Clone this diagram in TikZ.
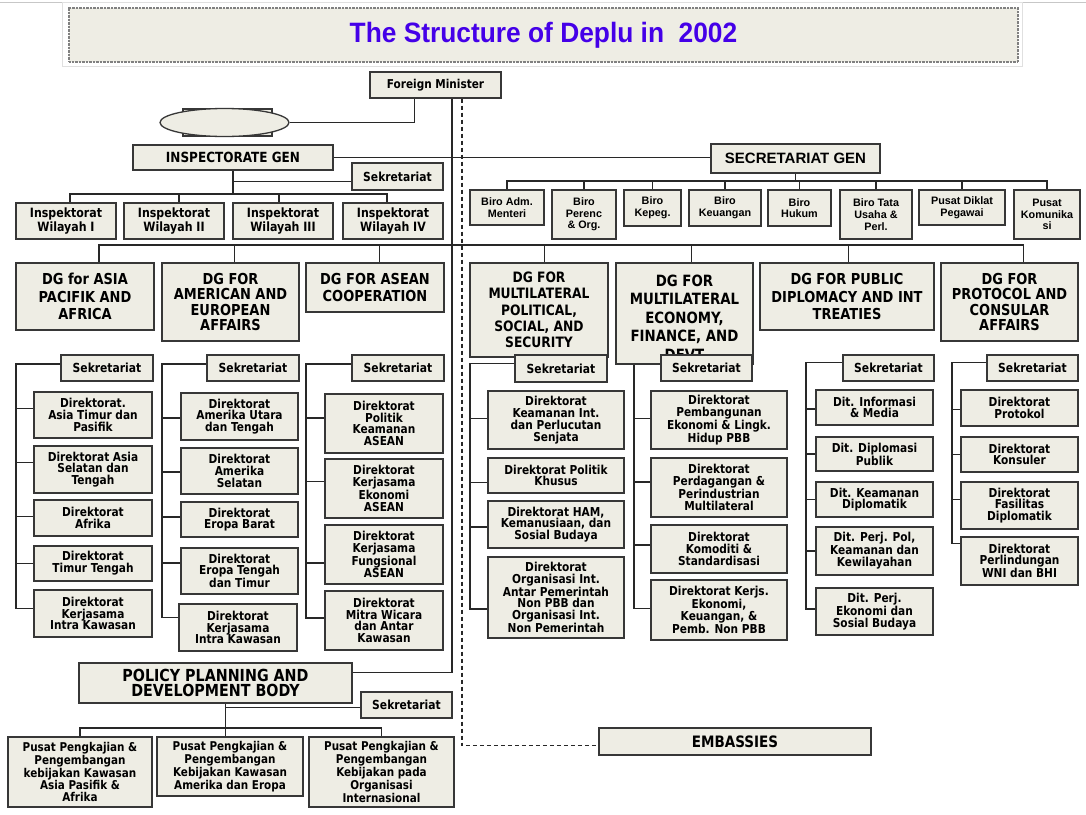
\documentclass[tikz,border=0pt]{standalone}
\usepackage{fontspec}
\usetikzlibrary{shapes.geometric,calc}
\newfontfamily\tah{DejaVu Sans}[FakeStretch=0.86]
\newfontfamily\lib{Liberation Sans}
\newfontfamily\libt{Liberation Sans}[FakeStretch=0.94]
\definecolor{boxfill}{RGB}{238,237,228}
\definecolor{titleblue}{RGB}{68,0,232}
\definecolor{edgec}{RGB}{55,55,55}
\definecolor{linec}{RGB}{40,40,40}
\pgfdeclarelayer{bg}
\pgfsetlayers{bg,main}
\newcommand{\bx}[7]{\node[#6,minimum width={(#4)-(#2)},minimum height={(#5)-(#3)}] (#1) at ({((#2)+(#4))/2},{((#3)+(#5))/2}) {#7};}
\newcommand{\lcon}[2]{\coordinate (#1c) at ($(#1.north west)!#2!(#1.south west)$);}
\newcommand{\tcon}[2]{\coordinate (#1t) at ($(#1.north west)!#2!(#1.north east)$);}
\tikzset{
  box/.style={draw=edgec,fill=boxfill,line width=1.3pt,inner sep=0pt,align=center,text=black},
  ln/.style={draw=linec,line width=1.2pt},
  fmst/.style={box,font=\tah\bfseries\fontsize{12.2}{13}\selectfont},
  hd/.style={box,font=\tah\bfseries\fontsize{14}{15}\selectfont},
  sgst/.style={box,font=\lib\bfseries\fontsize{15}{17}\selectfont},
  biro/.style={box,font=\lib\bfseries\fontsize{10.8}{11.7}\selectfont},
  sek/.style={box,font=\tah\bfseries\fontsize{12.5}{13}\selectfont},
  insk/.style={box,font=\tah\bfseries\fontsize{12.8}{12}\selectfont},
  dgbox/.style={box,font=\tah\bfseries\fontsize{15.1}{17.5}\selectfont},
  dgt/.style={box,font=\tah\bfseries\fontsize{15.1}{15.5}\selectfont},
  dgm/.style={box,font=\tah\bfseries\fontsize{14.3}{16.3}\selectfont},
  dgmf/.style={box,font=\tah\bfseries\fontsize{15.5}{18.5}\selectfont},
  dirbox/.style={box,font=\tah\bfseries\fontsize{12.3}{11.8}\selectfont},
  pus/.style={box,font=\tah\bfseries\fontsize{12.1}{11.5}\selectfont},
  ppst/.style={box,font=\tah\bfseries\fontsize{16.6}{15.5}\selectfont},
  embst/.style={box,font=\tah\bfseries\fontsize{15.7}{16}\selectfont},
  tbox/.style={box,draw=black!50,line width=1.4pt,dash pattern=on 0.7pt off 0.7pt,font=\libt\bfseries\fontsize{28}{30}\selectfont,text=titleblue},
}
\begin{document}
\begin{tikzpicture}[x=1pt,y=-1pt]
\useasboundingbox (0,0) rectangle (1086,814);
\begin{pgfonlayer}{bg}
\fill[white] (0,0) rectangle (1086,814);
\end{pgfonlayer}
% title
\draw[black!22,line width=0.8pt] (0,2) -- (1086,2);
\node[draw=black!12,fill=white,minimum width=960,minimum height=64,inner sep=0pt] (tframe) at (542,34) {};
\bx{title}{69}{8}{1018}{62}{tbox}{The Structure of Deplu in\ \ 2002}
% top
\bx{fm}{370}{72}{501}{98}{fmst}{Foreign Minister}
\bx{ellrect}{183}{109}{272}{136}{box}{}
\node[ellipse,draw=edgec,fill=boxfill,line width=1.3pt,minimum width=129,minimum height=28,inner sep=0pt] (ell) at (224.5,122.5) {};
\bx{insp}{133}{145}{333}{170}{hd}{INSPECTORATE GEN}
\bx{isek}{352}{163}{443}{190}{sek}{Sekretariat}
\bx{i1}{16}{203}{116}{239}{insk}{Inspektorat\\Wilayah I}
\bx{i2}{124}{203}{224}{239}{insk}{Inspektorat\\Wilayah II}
\bx{i3}{233}{203}{333}{239}{insk}{Inspektorat\\Wilayah III}
\bx{i4}{343}{203}{443}{239}{insk}{Inspektorat\\Wilayah IV}
\bx{sg}{711}{144}{880}{173}{sgst}{SECRETARIAT GEN}
\bx{b1}{470}{190}{544}{225}{biro}{Biro Adm.\\Menteri}
\bx{b2}{552}{190}{616}{239}{biro}{Biro\\Perenc\\\& Org.}
\bx{b3}{624}{190}{681}{226}{biro}{Biro\\Kepeg.}
\bx{b4}{689}{190}{761}{226}{biro}{Biro\\Keuangan}
\bx{b5}{768}{190}{831}{226}{biro}{Biro\\Hukum}
\bx{b6}{840}{190}{912}{239}{biro}{Biro Tata\\Usaha \&\\Perl.}
\bx{b7}{919}{190}{1005}{225}{biro}{Pusat Diklat\\Pegawai}
\bx{b8}{1014}{190}{1080}{239}{biro}{Pusat\\Komunika\\si}
% DGs
\bx{dg1}{16}{263}{154}{330}{dgbox}{DG for ASIA\\PACIFIK AND\\AFRICA}
\bx{dg2}{162}{263}{299}{341}{dgt}{DG FOR\\AMERICAN AND\\EUROPEAN\\AFFAIRS}
\bx{dg3}{306}{263}{444}{312}{dgbox}{DG FOR ASEAN\\COOPERATION}
\bx{dg4}{470}{263}{608}{357}{dgm}{DG FOR\\MULTILATERAL\\POLITICAL,\\SOCIAL, AND\\SECURITY}
\bx{dg5}{616}{263}{753}{364}{dgmf}{\rule{0pt}{19.3pt}DG FOR\\MULTILATERAL\\ECONOMY,\\FINANCE, AND\\DEVT}
\bx{dg6}{760}{263}{934}{330}{dgbox}{DG FOR PUBLIC\\DIPLOMACY AND INT\\TREATIES}
\bx{dg7}{941}{263}{1078}{341}{dgt}{DG FOR\\PROTOCOL AND\\CONSULAR\\AFFAIRS}
% Sekretariats
\bx{s1}{61}{355}{153}{381}{sek}{Sekretariat}
\bx{s2}{207}{355}{299}{381}{sek}{Sekretariat}
\bx{s3}{352}{355}{444}{381}{sek}{Sekretariat}
\bx{s4}{515}{355}{607}{382}{sek}{Sekretariat}
\bx{s5}{661}{355}{752}{381}{sek}{Sekretariat}
\bx{s6}{843}{355}{934}{381}{sek}{Sekretariat}
\bx{s7}{987}{355}{1078}{381}{sek}{Sekretariat}
% column 1
\bx{a1}{34}{392}{152}{438}{dirbox}{Direktorat.\\Asia Timur dan\\Pasifik}
\bx{a2}{34}{446}{152}{493}{dirbox}{Direktorat Asia\\Selatan dan\\Tengah}
\bx{a3}{34}{500}{152}{536}{dirbox}{Direktorat\\Afrika}
\bx{a4}{34}{546}{152}{581}{dirbox}{Direktorat\\Timur Tengah}
\bx{a5}{34}{590}{152}{637}{dirbox}{Direktorat\\Kerjasama\\Intra Kawasan}
% column 2
\bx{c21}{181}{393}{298}{440}{dirbox}{Direktorat\\Amerika Utara\\dan Tengah}
\bx{c22}{181}{448}{298}{494}{dirbox}{Direktorat\\Amerika\\Selatan}
\bx{c23}{181}{502}{298}{537}{dirbox}{Direktorat\\Eropa Barat}
\bx{c24}{181}{548}{298}{594}{dirbox}{Direktorat\\Eropa Tengah\\dan Timur}
\bx{c25}{179}{604}{297}{651}{dirbox}{Direktorat\\Kerjasama\\Intra Kawasan}
% column 3
\bx{c31}{325}{394}{443}{453}{dirbox}{Direktorat\\Politik\\Keamanan\\ASEAN}
\bx{c32}{325}{459}{443}{518}{dirbox}{Direktorat\\Kerjasama\\Ekonomi\\ASEAN}
\bx{c33}{325}{525}{443}{584}{dirbox}{Direktorat\\Kerjasama\\Fungsional\\ASEAN}
\bx{c34}{325}{591}{443}{650}{dirbox}{Direktorat\\Mitra Wicara\\dan Antar\\Kawasan}
% column 4
\bx{d1}{488}{391}{624}{449}{dirbox}{Direktorat\\Keamanan Int.\\dan Perlucutan\\Senjata}
\bx{d2}{488}{458}{624}{493}{dirbox}{Direktorat Politik\\Khusus}
\bx{d3}{488}{501}{624}{548}{dirbox}{Direktorat HAM,\\Kemanusiaan, dan\\Sosial Budaya}
\bx{d4}{488}{557}{624}{638}{dirbox}{Direktorat\\Organisasi Int.\\Antar Pemerintah\\Non PBB dan\\Organisasi Int.\\Non Pemerintah}
% column 5
\bx{e1}{651}{391}{787}{449}{dirbox}{Direktorat\\Pembangunan\\Ekonomi \& Lingk.\\Hidup PBB}
\bx{e2}{651}{458}{787}{517}{dirbox}{Direktorat\\Perdagangan \&\\Perindustrian\\Multilateral}
\bx{e3}{651}{525}{787}{573}{dirbox}{Direktorat\\Komoditi \&\\Standardisasi}
\bx{e4}{651}{580}{787}{640}{dirbox}{Direktorat Kerjs.\\Ekonomi,\\Keuangan, \&\\Pemb. Non PBB}
% column 6
\bx{f1}{816}{390}{933}{425}{dirbox}{Dit. Informasi\\\& Media}
\bx{f2}{816}{437}{933}{471}{dirbox}{Dit. Diplomasi\\Publik}
\bx{f3}{816}{482}{933}{517}{dirbox}{Dit. Keamanan\\Diplomatik}
\bx{f4}{816}{527}{933}{575}{dirbox}{Dit. Perj. Pol,\\Keamanan dan\\Kewilayahan}
\bx{f5}{816}{588}{933}{635}{dirbox}{Dit. Perj.\\Ekonomi dan\\Sosial Budaya}
% column 7
\bx{g1}{961}{390}{1078}{426}{dirbox}{Direktorat\\Protokol}
\bx{g2}{961}{437}{1078}{472}{dirbox}{Direktorat\\Konsuler}
\bx{g3}{961}{482}{1078}{529}{dirbox}{Direktorat\\Fasilitas\\Diplomatik}
\bx{g4}{961}{537}{1078}{585}{dirbox}{Direktorat\\Perlindungan\\WNI dan BHI}
% policy planning
\bx{ppdb}{79}{663}{352}{703}{ppst}{POLICY PLANNING AND\\DEVELOPMENT BODY}
\bx{psek}{361}{692}{452}{718}{sek}{Sekretariat}
\bx{p1}{8}{737}{152}{807}{pus}{Pusat Pengkajian \&\\Pengembangan\\kebijakan Kawasan\\Asia Pasifik \&\\Afrika}
\bx{p2}{157}{737}{303}{796}{pus}{Pusat Pengkajian \&\\Pengembangan\\Kebijakan Kawasan\\Amerika dan Eropa}
\bx{p3}{309}{737}{454}{807}{pus}{Pusat Pengkajian \&\\Pengembangan\\Kebijakan pada\\Organisasi\\Internasional}
\bx{emb}{599}{728}{871}{755}{embst}{EMBASSIES}
% ---------------- connectors
\begin{pgfonlayer}{bg}
\coordinate (fmA) at ($(fm.south west)!.344!(fm.south east)$);
\coordinate (fmB) at ($(fm.south west)!.625!(fm.south east)$);
\coordinate (fmC) at ($(fm.south west)!.70!(fm.south east)$);
\coordinate (ppE) at ($(ppdb.north east)!.25!(ppdb.south east)$);
\coordinate (embW) at ($(emb.north west)!.65!(emb.south west)$);
\draw[ln] (fmA) |- (ell.east);
\draw[ln] (fmB) |- (ppE);
\draw[ln,line width=1.4pt,dash pattern=on 4pt off 3pt] (fmC) |- (embW);
\draw[ln] (insp.east) -- (insp.east -| sg.west);
% inspectorate
\coordinate (ibus) at (0,194);
\lcon{isek}{.67}
\draw[ln] (insp.south) -- (insp.south |- ibus);
\draw[ln] (isekc) -- (insp.south |- isekc);
\tcon{i1}{.54}\tcon{i2}{.55}\tcon{i3}{.46}\tcon{i4}{.44}
\draw[ln] (i1t) |- (i4t |- ibus) -- (i4t);
\draw[ln] (i2t) -- (i2t |- ibus);
\draw[ln] (i3t) -- (i3t |- ibus);
% secretariat gen
\coordinate (sbus) at (0,181);
\draw[ln] (sg.south) -- (sg.south |- sbus);
\draw[ln] (b1.north) |- (b8.north |- sbus) -- (b8.north);
\foreach \n in {b2,b3,b4,b5,b6,b7} \draw[ln] (\n.north) -- (\n.north |- sbus);
% DG bus
\coordinate (dgbus) at (0,245);
\tcon{dg1}{.6}\tcon{dg2}{.53}\tcon{dg3}{.53}\tcon{dg4}{.54}\tcon{dg5}{.55}\tcon{dg6}{.51}\tcon{dg7}{.6}
\draw[ln] (dg1t) |- (dg7t |- dgbus) -- (dg7t);
\draw[ln] (dg2t) -- (dg2t |- dgbus);
\draw[ln] (dg3t) -- (dg3t |- dgbus);
\draw[ln] (dg4t) -- (dg4t |- dgbus);
\draw[ln] (dg5t) -- (dg5t |- dgbus);
\draw[ln] (dg6t) -- (dg6t |- dgbus);
% columns
\coordinate (v1) at (16,0);\coordinate (v2) at (162,0);\coordinate (v3) at (306,0);
\coordinate (v4) at (470,0);\coordinate (v5) at (634,0);\coordinate (v6) at (806,0);\coordinate (v7) at (952,0);
\lcon{s1}{.35}\lcon{s2}{.35}\lcon{s3}{.35}\lcon{s4}{.33}\lcon{s5}{.35}\lcon{s6}{.3}\lcon{s7}{.3}
\lcon{a1}{.37}\lcon{a2}{.36}\lcon{a3}{.47}\lcon{a4}{.49}\lcon{a5}{.40}
\draw[ln] (s1c) -| (v1 |- a5c) -- (a5c);
\foreach \n in {a1,a2,a3,a4} \draw[ln] (\n c) -- (v1 |- \n c);
\lcon{c21}{.53}\lcon{c22}{.52}\lcon{c23}{.43}\lcon{c24}{.33}\lcon{c25}{.30}
\draw[ln] (s2c) -| (v2 |- c25c) -- (c25c);
\foreach \n in {c21,c22,c23,c24} \draw[ln] (\n c) -- (v2 |- \n c);
\lcon{c31}{.41}\lcon{c32}{.39}\lcon{c33}{.64}\lcon{c34}{.46}
\draw[ln] (s3c) -| (v3 |- c34c) -- (c34c);
\foreach \n in {c31,c32,c33} \draw[ln] (\n c) -- (v3 |- \n c);
\lcon{d1}{.47}\lcon{d2}{.69}\lcon{d3}{.55}\lcon{d4}{.64}
\draw[ln] (s4c) -| (v4 |- d4c) -- (d4c);
\foreach \n in {d1,d2,d3} \draw[ln] (\n c) -- (v4 |- \n c);
\lcon{e1}{.47}\lcon{e2}{.41}\lcon{e3}{.42}\lcon{e4}{.48}
\draw[ln] (s5c) -| (v5 |- e4c) -- (e4c);
\foreach \n in {e1,e2,e3} \draw[ln] (\n c) -- (v5 |- \n c);
\lcon{f1}{.54}\lcon{f2}{.5}\lcon{f3}{.51}\lcon{f4}{.5}\lcon{f5}{.45}
\draw[ln] (s6c) -| (v6 |- f5c) -- (f5c);
\foreach \n in {f1,f2,f3,f4} \draw[ln] (\n c) -- (v6 |- \n c);
\lcon{g1}{.53}\lcon{g2}{.49}\lcon{g3}{.38}\lcon{g4}{.15}
\draw[ln] (s7c) -| (v7 |- g4c) -- (g4c);
\foreach \n in {g1,g2,g3} \draw[ln] (\n c) -- (v7 |- \n c);
% policy planning
\coordinate (ppS) at ($(ppdb.south west)!.535!(ppdb.south east)$);
\coordinate (pbus) at (0,728);
\lcon{psek}{.58}
\draw[ln] (ppS) -- (ppS |- p2.north);
\draw[ln] (psekc) -- (ppS |- psekc);
\draw[ln] (p1.north) |- (p3.north |- pbus) -- (p3.north);
\end{pgfonlayer}
\end{tikzpicture}
\end{document}
